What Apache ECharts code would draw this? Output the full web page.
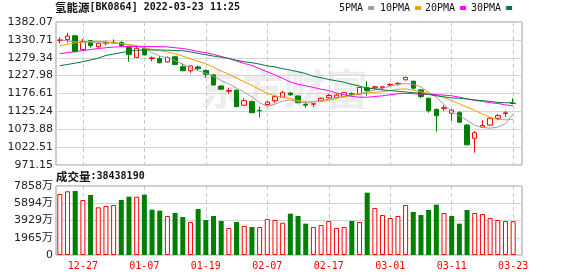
<!DOCTYPE html>
<html><head><meta charset="utf-8">
<script src="https://cdn.jsdelivr.net/npm/echarts@6/dist/echarts.min.js"></script>
<style>html,body{margin:0;padding:0;background:#fff}#c{width:578px;height:276px}</style>
</head><body><div id="c"></div>
<script>
// ---- data ----
const dates = ['12-22','12-23','12-24','12-27','12-28','12-29','12-30','12-31','01-04','01-05','01-06','01-07','01-10','01-11','01-12','01-13','01-14','01-17','01-18','01-19','01-20','01-21','01-24','01-25','01-26','01-27','01-28','02-07','02-08','02-09','02-10','02-11','02-14','02-15','02-16','02-17','02-18','02-21','02-22','02-23','02-24','02-25','02-28','03-01','03-02','03-03','03-04','03-07','03-08','03-09','03-10','03-11','03-14','03-15','03-16','03-17','03-18','03-21','03-22','03-23'];
const labelIdx = [3, 11, 19, 27, 35, 43, 51, 59];
const openP  = [1328.5,1332,1342.5,1302.5,1328.5,1311,1321,1324,1323.5,1309.5,1280.5,1306.5,1277,1277,1267,1282,1253.5,1242,1253,1243,1230,1198,1183,1186,1143,1153,1128,1145,1156,1166,1178,1169.5,1145,1146,1155,1164,1165,1167.5,1176,1175,1193,1193,1194,1201,1204,1216,1212,1187,1163,1131,1134,1120,1121.5,1086,1048,1080,1086,1105.5,1119,1149];
const closeP = [1330.5,1341.5,1296.5,1326,1314,1320.5,1323.5,1322,1314,1289,1306.5,1287.5,1279,1265,1280,1260,1242,1255.5,1248,1232,1201,1189,1185,1139,1156,1121.5,1127,1152,1167.5,1179,1173,1150,1143,1147,1163,1171,1172,1179,1174,1194,1185,1196,1196,1203,1206,1223,1192,1168,1127,1113,1136,1129,1094,1029,1064,1085,1105.5,1113,1121,1148];
const lowP   = [1321,1322.5,1295,1300,1309,1308,1315,1320,1310,1268,1280,1286,1269,1263,1266,1258,1241,1236,1243,1222,1200,1187,1177,1137,1140,1120,1108,1143,1150,1164,1170,1149,1136,1138,1154,1162,1163,1166,1170,1174,1170,1189,1186,1196,1199,1214,1188,1163,1121.5,1067,1127,1098.5,1093,1028,1006.5,1079,1084,1101,1110,1146];
const highP  = [1338,1351,1343.5,1333,1330.5,1323,1328,1332,1327,1311,1314,1310,1283,1284,1283,1284,1263,1257,1257,1246,1233,1200,1193,1188,1163,1156,1139,1155,1172,1184,1180,1171,1152,1147.5,1165,1175,1176,1181,1180,1196,1212,1199,1197,1206,1208,1225,1213,1189,1164,1133,1143,1131,1126,1088,1069,1100,1108,1118,1126,1163];
const ma5  = [1331,1328,1325,1324,1324,1322,1322,1322,1320,1316,1313,1306,1294,1284,1280,1271,1261,1250,1242,1235,1226,1214,1204,1192,1180,1167,1150,1140,1146,1155,1158,1154,1148,1152,1156,1160,1165,1168,1172,1176,1181,1187,1192,1197,1203,1205,1203,1195,1180,1166,1145,1125,1112,1100,1085,1079,1077,1080,1090,1118];
const ma10 = [1313,1318,1322,1324.5,1326,1326.5,1325,1322.5,1320,1317,1313,1308,1303,1300,1296,1291,1284,1276,1269,1262,1252,1241,1232,1221,1210,1200,1188,1177,1170,1165,1162,1157,1153,1153,1154,1157,1162,1168,1172,1175,1178,1180,1182,1185,1189,1190,1186,1181,1177,1173,1165,1156,1147,1137,1128,1118,1108,1102,1101,1103];
const ma20 = [1291,1294,1297,1300,1303,1306,1308,1310,1311,1312,1312,1312,1311.5,1311,1310.5,1308,1306,1302,1297,1294,1289,1283,1277,1270,1263,1257,1248,1239,1230,1220,1210,1203,1199,1194,1189,1185,1178,1173,1168,1166,1166,1168,1170,1173,1176,1177,1176,1175,1174,1173,1172,1170,1166,1161,1157,1154,1150,1148,1144,1141];
const ma30 = [1256.5,1260,1264,1268,1273,1278,1286,1290,1294,1298,1300.5,1302,1302,1301.5,1301,1300,1299.5,1296,1292,1288,1284,1281,1277.5,1272,1268,1265,1261,1256,1253,1248,1244,1239,1234,1226,1222,1217,1213,1209,1203,1198,1192,1190,1187,1185,1183,1181,1179,1177,1174,1170,1167,1164,1163,1161,1158,1156,1154,1151,1150,1150];
const volume = [6947,7254,7289,6264,6833,5430,5580,5694,6264,6643,6643,6871,5160,5049,4442,4783,4328,3758,5239,3986,4442,3872,3075,3758,3303,3189,3189,4100,3986,3678,4707,4442,3568,3189,3417,3872,3075,3189,3872,3758,7097,5353,4555,4214,4442,5694,4897,4555,5125,5732,4783,4442,3568,5125,4783,4669,4214,3986,3872,3844];
const volUp  = [1,1,0,1,0,1,1,1,0,0,1,0,0,0,1,0,0,1,0,0,0,0,1,0,1,0,1,1,1,1,0,0,0,1,1,1,1,1,0,1,0,1,1,1,1,1,0,0,0,0,1,0,0,0,1,1,1,1,1,1];
const yTickLabels = ['971.15','1022.51','1073.88','1125.24','1176.61','1227.98','1279.34','1330.71','1382.07'];
const volTickLabels = ['0','1965万','3929万','5894万','7858万'];
const maNames = ['5PMA','10PMA','20PMA','30PMA'];
const titleName = '氢能源';
const titleInfo = '[BK0864] 2022-03-23 11:25';
const volLabel = '成交量';
const volTotal = '38438190';

// ---- chart ----
const RED = '#ff0000', GREEN = '#008000';
const yMin = 971.15, yMax = 1382.07, yInt = (yMax - yMin) / 8;
const vMax = 7858, vInt = vMax / 4;
const mono = "'DejaVu Sans Mono', monospace";
const cjk = "'Noto Sans CJK SC', sans-serif";
const num = "'DejaVu Sans', 'Noto Sans CJK SC', sans-serif";

const chart = echarts.init(document.getElementById('c'), null, {renderer: 'canvas'});
const xCommon = (gi, showLabel) => ({
  type: 'value', gridIndex: gi, min: -0.5, max: 60.15,
  axisLine: {show: false},
  axisTick: {show: false, customValues: labelIdx},
  axisLabel: {show: showLabel, customValues: labelIdx, formatter: v => dates[Math.round(v)] || '',
    color: RED, fontFamily: mono, fontSize: 10, margin: 6},
  splitLine: {show: true, lineStyle: {type: [4, 3], color: '#c8c8c8', width: 1}}
});
const maColors = ['#a0a0a0', '#f0a000', '#ff00ff', '#007a3d'];
const maData = [ma5, ma10, ma20, ma30];
const legendLeft = [339, 380, 425, 471];

chart.setOption({
  backgroundColor: '#fff',
  animation: false,
  title: [
    {text: '{a|' + titleName + '}{b|' + titleInfo + '}', left: 55, top: 2, padding: 0,
     textStyle: {rich: {a: {fontFamily: cjk, fontSize: 11.5, color: '#111'}, b: {fontFamily: mono, fontSize: 10, color: '#111'}}}},
    {text: '{a|' + volLabel + '}{b|:' + volTotal + '}', left: 56, top: 171, padding: 0,
     textStyle: {rich: {a: {fontFamily: cjk, fontSize: 11.5, color: '#111'}, b: {fontFamily: mono, fontSize: 10, color: '#111'}}}}
  ],
  legend: maNames.map((n, k) => ({
    data: [n], left: legendLeft[k], top: 3, padding: 0, align: 'right',
    icon: 'rect', itemWidth: 6, itemHeight: 4,
    textStyle: {fontFamily: mono, fontSize: 10, color: '#111'}
  })),
  graphic: [{type: 'text', left: 200, top: 68, z: -10, silent: true,
    style: {text: '东方财富', font: 'bold 42px ' + cjk, fill: '#ededed'}}],
  grid: [
    {left: 56, top: 22, width: 466, height: 143, show: true, borderColor: '#9a9a9a', borderWidth: 1, backgroundColor: 'transparent'},
    {left: 56, top: 186, width: 466, height: 69, show: true, borderColor: '#9a9a9a', borderWidth: 1, backgroundColor: 'transparent'}
  ],
  xAxis: [xCommon(0, false), xCommon(1, true)],
  yAxis: [
    {type: 'value', gridIndex: 0, min: yMin, max: yMax, interval: yInt,
     axisLine: {show: false}, axisTick: {show: false},
     axisLabel: {formatter: v => yTickLabels[Math.round((v - yMin) / yInt)], color: '#222', fontFamily: num, fontSize: 11, margin: 3},
     splitLine: {lineStyle: {color: '#d4d4d4', width: 1}}},
    {type: 'value', gridIndex: 1, min: 0, max: vMax, interval: vInt,
     axisLine: {show: false}, axisTick: {show: false},
     axisLabel: {formatter: v => volTickLabels[Math.round(v / vInt)], color: '#222', fontFamily: num, fontSize: 11, margin: 3},
     splitLine: {lineStyle: {color: '#d4d4d4', width: 1}}}
  ],
  series: [
    {type: 'candlestick', xAxisIndex: 0, yAxisIndex: 0, barWidth: 5,
     data: dates.map((d, i) => [i, openP[i], closeP[i], lowP[i], highP[i]]),
     itemStyle: {color: '#ffffff', color0: GREEN, borderColor: RED, borderColor0: GREEN, borderWidth: 1}},
    ...maNames.map((n, k) => ({
      name: n, type: 'line', xAxisIndex: 0, yAxisIndex: 0, z: 3,
      symbol: 'none', showSymbol: false, color: maColors[k],
      lineStyle: {width: 1, color: maColors[k]},
      data: maData[k].map((v, i) => [i, v])
    })),
    {type: 'bar', xAxisIndex: 1, yAxisIndex: 1, barWidth: 5,
     data: volume.map((v, i) => ({value: [i, v], itemStyle: volUp[i]
       ? {color: '#ffffff', borderColor: RED, borderWidth: 1}
       : {color: GREEN, borderColor: GREEN, borderWidth: 0}}))}
  ]
});
</script></body></html>
